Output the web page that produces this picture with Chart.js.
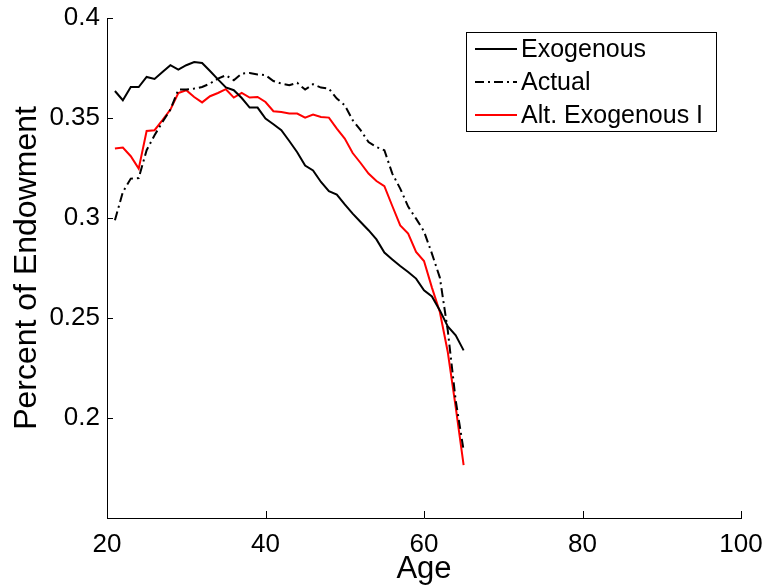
<!DOCTYPE html>
<html>
<head>
<meta charset="utf-8">
<script src="https://cdn.jsdelivr.net/npm/chart.js@4.4.1/dist/chart.umd.min.js"></script>
<style>
	body { margin: 0; background: #fff; }
	#wrap { width: 769px; height: 588px; }
</style>
</head>
<body>
<div id="wrap"><canvas id="myChart" width="769" height="588"></canvas></div>
<script>
var ages = [21, 22, 23, 24, 25, 26, 27, 28, 29, 30, 31, 32, 33, 34, 35, 36, 37, 38, 39, 40, 41, 42, 43,
	44, 45, 46, 47, 48, 49, 50, 51, 52, 53, 54, 55, 56, 57, 58, 59, 60, 61, 62, 63, 64, 65];
var exogenous = [0.3635, 0.3589, 0.3655, 0.3655, 0.3705, 0.3695, 0.373, 0.3764, 0.3742, 0.3764, 0.378, 0.3775,
	0.3735, 0.3693, 0.3653, 0.3639, 0.36, 0.3552, 0.3552, 0.3497, 0.3469, 0.3439, 0.3385, 0.3329, 0.3262,
	0.3238, 0.318, 0.3134, 0.3117, 0.3068, 0.3022, 0.298, 0.2939, 0.2893, 0.2827, 0.2793, 0.276, 0.273,
	0.2697, 0.2639, 0.2608, 0.2538, 0.2458, 0.2413, 0.2338];
var actual = [0.2989, 0.313, 0.3197, 0.32, 0.3339, 0.3414, 0.348, 0.3542, 0.3642, 0.3642, 0.3647, 0.3655,
	0.3672, 0.3697, 0.3714, 0.3689, 0.3722, 0.3725, 0.3718, 0.3714, 0.3685, 0.3672, 0.3664, 0.3676, 0.3642,
	0.3669, 0.3652, 0.3647, 0.3597, 0.3564, 0.3489, 0.3439, 0.338, 0.3355, 0.3339, 0.3222, 0.3147, 0.3057,
	0.2997, 0.2933, 0.2822, 0.2702, 0.2438, 0.2088, 0.1838];
var altExogenous = [0.3347, 0.3352, 0.3309, 0.3247, 0.3435, 0.3439, 0.3489, 0.3542, 0.3625, 0.3639, 0.3605,
	0.3578, 0.3609, 0.3625, 0.3644, 0.3602, 0.3625, 0.3602, 0.3605, 0.358, 0.3534, 0.353, 0.3522, 0.3522,
	0.3502, 0.3517, 0.3505, 0.3502, 0.3447, 0.3397, 0.3325, 0.3275, 0.3222, 0.3185, 0.3159, 0.306, 0.2963,
	0.2922, 0.283, 0.2785, 0.2652, 0.253, 0.233, 0.2055, 0.1764];
var seriesNames = ["Exogenous", "Actual", "Alt. Exogenous I"];
var xTicks = [20, 40, 60, 80, 100];
var yTicks = [0.2, 0.25, 0.3, 0.35, 0.4];

var FONT = '"Liberation Sans", Arial, sans-serif';

function toPoints(values) {
	return ages.map((a, i) => ({ x: a, y: values[i] }));
}

// MATLAB style: ticks point into the plot, legend box top right
const matlabBits = {
	id: "matlabBits",
	afterDraw(chart) {
		const ctx = chart.ctx;
		const area = chart.chartArea;
		const xs = chart.scales.x;
		const ys = chart.scales.y;
		ctx.save();
		ctx.strokeStyle = "#000";
		ctx.lineWidth = 1;
		ctx.beginPath();
		xTicks.forEach((v) => {
			const px = Math.round(xs.getPixelForValue(v)) + 0.5;
			ctx.moveTo(px, area.bottom);
			ctx.lineTo(px, area.bottom - 7);
		});
		yTicks.forEach((v) => {
			const py = Math.round(ys.getPixelForValue(v)) + 0.5;
			ctx.moveTo(area.left, py);
			ctx.lineTo(area.left + 6, py);
		});
		ctx.stroke();

		// legend
		const bx = 466.5, by = 32.5, bw = 250, bh = 99;
		ctx.fillStyle = "#fff";
		ctx.fillRect(bx, by, bw, bh);
		ctx.strokeRect(bx, by, bw, bh);
		ctx.font = "25px " + FONT;
		ctx.textBaseline = "middle";
		chart.data.datasets.forEach((ds, i) => {
			const ry = 49 + i * 33;
			ctx.beginPath();
			ctx.strokeStyle = ds.borderColor;
			ctx.lineWidth = ds.borderWidth;
			ctx.setLineDash(ds.borderDash || []);
			ctx.moveTo(475, ry);
			ctx.lineTo(517, ry);
			ctx.stroke();
			ctx.setLineDash([]);
			ctx.fillStyle = "#000";
			ctx.fillText(ds.label, 521, ry + 1);
		});
		ctx.restore();
	},
};

var ctx = document.getElementById("myChart").getContext("2d");

var chart = new Chart(ctx, {
	type: "line",
	data: {
		datasets: [
			{
				label: seriesNames[0],
				data: toPoints(exogenous),
				borderColor: "#000",
				borderWidth: 2,
				pointRadius: 0,
				tension: 0,
				fill: false,
			},
			{
				label: seriesNames[1],
				data: toPoints(actual),
				borderColor: "#000",
				borderWidth: 2,
				borderDash: [9, 4, 2, 4],
				pointRadius: 0,
				tension: 0,
				fill: false,
			},
			{
				label: seriesNames[2],
				data: toPoints(altExogenous),
				borderColor: "#ff0000",
				borderWidth: 2,
				pointRadius: 0,
				tension: 0,
				fill: false,
			},
		],
	},
	options: {
		responsive: false,
		animation: false,
		layout: { padding: { top: 18, right: 28, left: 0, bottom: 0 } },
		plugins: {
			legend: { display: false },
			tooltip: { enabled: false },
		},
		scales: {
			x: {
				type: "linear",
				min: 20,
				max: 100,
				afterBuildTicks: (scale) => {
					scale.ticks = xTicks.map((v) => ({ value: v }));
				},
				afterFit: (scale) => {
					scale.height = 70;
					scale.paddingLeft = 0;
					scale.paddingRight = 0;
				},
				ticks: {
					color: "#000",
					font: { family: FONT, size: 26 },
					padding: 11,
					maxRotation: 0,
				},
				grid: { display: false, drawTicks: false },
				border: { display: true, color: "#000", width: 1 },
				title: {
					display: true,
					text: "Age",
					color: "#000",
					font: { family: FONT, size: 31 },
					padding: 0,
				},
			},
			y: {
				type: "linear",
				min: 0.15,
				max: 0.4,
				afterBuildTicks: (scale) => {
					scale.ticks = yTicks.map((v) => ({ value: v }));
				},
				afterFit: (scale) => {
					scale.width = 107;
					scale.paddingTop = 0;
					scale.paddingBottom = 0;
				},
				ticks: {
					color: "#000",
					font: { family: FONT, size: 26 },
					padding: 7,
					callback: (v) => String(Number(v.toFixed(2))),
				},
				grid: { display: false, drawTicks: false },
				border: { display: true, color: "#000", width: 1 },
				title: {
					display: true,
					text: "Percent of Endowment",
					color: "#000",
					font: { family: FONT, size: 32 },
					padding: { top: 8, bottom: 0 },
				},
			},
		},
	},
	plugins: [matlabBits],
});
</script>
</body>
</html>
